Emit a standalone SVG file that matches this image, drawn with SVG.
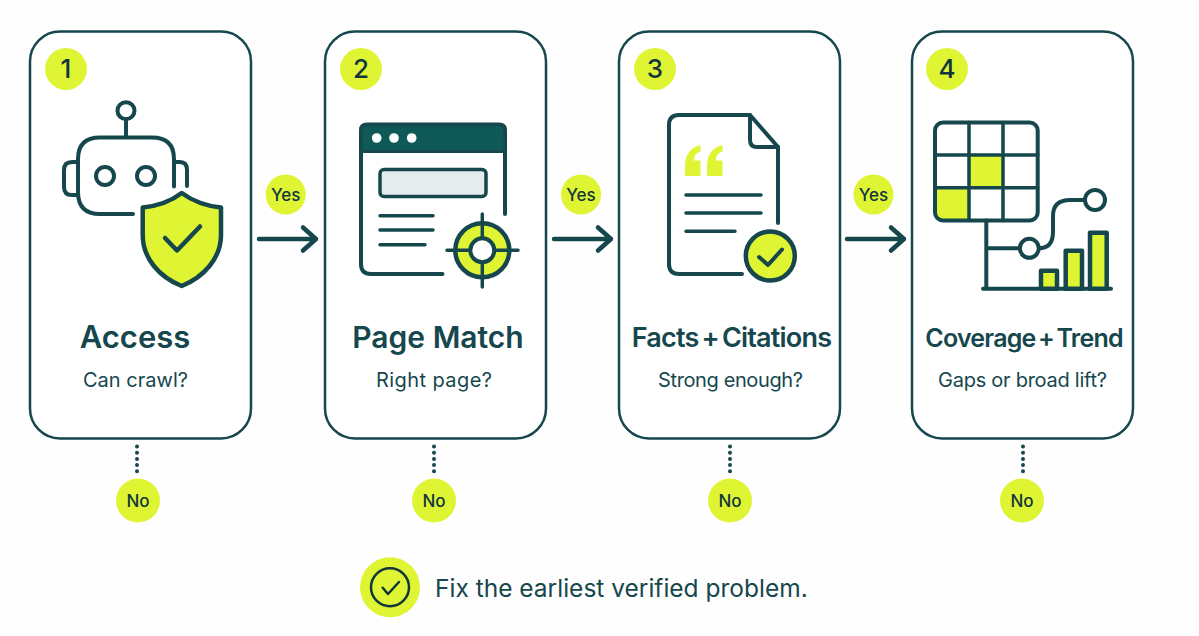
<svg xmlns="http://www.w3.org/2000/svg" width="1199" height="636" viewBox="0 0 1199 636">
<style>
.card{fill:#fff;stroke:#15474d;stroke-width:2.5}
.s{fill:none;stroke:#15474d;stroke-width:4;stroke-linecap:round;stroke-linejoin:round}
.t{stroke-width:3.5}
.a{stroke-width:4.5}
.l{fill:#dff534}
.lf{fill:#dff534;stroke:#15474d;stroke-width:4.5;stroke-linejoin:round}
.wf{fill:#fff;stroke:#15474d;stroke-width:4}
.num{font:500 26px Inter,"Liberation Sans",sans-serif;fill:#12363a;text-anchor:middle}
.title{font:600 30px Inter,"Liberation Sans",sans-serif;fill:#15474d;text-anchor:middle}
.narrow{font-size:27px;word-spacing:-3px;letter-spacing:-0.8px}
.sub{font:400 20px Inter,"Liberation Sans",sans-serif;fill:#15474d;text-anchor:middle}
.tag{font:500 17px Inter,"Liberation Sans",sans-serif;fill:#12363a;text-anchor:middle}
.foot{font:400 24.500px Inter,"Liberation Sans",sans-serif;fill:#15474d}
</style>
<rect width="1199" height="636" fill="#fdfefd"/>
<g id="connectors">
<path class="s a" d="M259 239H316M303 227.500L316 239L303 250.500"/>
<path class="s a" d="M554 239H611M598 227.500L611 239L598 250.500"/>
<path class="s a" d="M847 239H904M891 227.500L904 239L891 250.500"/>
<path fill="none" stroke="#15474d" stroke-width="4" stroke-linecap="round" stroke-dasharray="0 6.200" d="M137 446.500V472M434 446.500V472M730 446.500V472M1023 446.500V472"/>
</g>
<g id="node-1">
<rect class="card" x="30" y="31.500" width="221" height="407" rx="30"/>
<circle class="l" cx="66" cy="69" r="21"/>
<text class="num" x="66" y="78">1</text>
<circle class="s" cx="126" cy="110.700" r="8.500"/>
<path class="s" d="M126 119V137"/>
<path class="s" d="M133 214H100Q78 214 78 192V159Q78 137.500 100 137.500H152Q174 137.500 174 159V186.500"/>
<path class="s" d="M78 162H72Q64 162 64 170V187Q64 195 72 195H78"/>
<path class="s" d="M174 162H180Q187 162 187 170V186"/>
<circle class="s" cx="105" cy="176" r="9"/>
<circle class="s" cx="146" cy="176" r="9"/>
<path class="lf" d="M181.700 193C194 202 206 206 221 207.500V235C221 258 204 277 181.700 286C159 277 142.700 258 142.700 235V207.500C157 206 170 202 181.700 193Z"/>
<path class="s a" d="M165 238L177 250.500L200 226.500"/>
<text class="title" x="135" y="348" style="font-size:31px">Access</text>
<text class="sub" x="135.500" y="387" textLength="105">Can crawl?</text>
</g>
<g id="node-2">
<rect class="card" x="325" y="31.500" width="221" height="407" rx="30"/>
<circle class="l" cx="361" cy="69" r="21"/>
<text class="num" x="361" y="78">2</text>
<path class="s" d="M505 214V130Q505 124.500 499 124.500H367Q361 124.500 361 130V264Q361 274 371 274H442.500"/>
<path fill="#0f5a58" stroke="#15474d" stroke-width="3" d="M361 151.500V132Q361 124.500 368 124.500H498Q505 124.500 505 132V151.500Z"/>
<circle cx="376.700" cy="138" r="4.800" fill="#fff"/>
<circle cx="394" cy="138" r="4.800" fill="#fff"/>
<circle cx="411.700" cy="138" r="4.800" fill="#fff"/>
<rect x="380" y="169.500" width="106" height="27" rx="4" fill="#e6ebeb" stroke="#15474d" stroke-width="3.500"/>
<path class="s t" d="M380 215.700H433M380 230H433M380 244.700H425"/>
<circle cx="482.300" cy="250.300" r="27" fill="#dff534" stroke="#15474d" stroke-width="4.500"/>
<circle class="wf" cx="482.300" cy="250.300" r="12"/>
<path class="s t" d="M482.300 214V237M482.300 263.500V287M447 250.300H469.500M495 250.300H518"/>
<text class="title" x="438" y="348">Page Match</text>
<text class="sub" x="434" y="387" textLength="116">Right page?</text>
</g>
<g id="node-3">
<rect class="card" x="619" y="31.500" width="221" height="407" rx="30"/>
<circle class="l" cx="655" cy="69" r="21"/>
<text class="num" x="655" y="78">3</text>
<path class="s" d="M778 223V147L750 115H679Q669 115 669 125V264Q669 274 679 274H742"/>
<path class="s" d="M750 115V140Q750 147 757 147H778"/>
<path class="l" d="M700.500 145Q685 149 685 166V176H700.500V160.500H694Q694 153 700.500 151.500ZM722.500 145Q707 149 707 166V176H722.500V160.500H716Q716 153 722.500 151.500Z"/>
<path class="s t" d="M686 195H761M686 213H761M686 231.300H735"/>
<circle class="lf" cx="770.300" cy="256" r="24.500"/>
<path class="s" d="M759 257L768 265L782 249.500"/>
<text class="title narrow" x="731.500" y="347">Facts + Citations</text>
<text class="sub" x="730.500" y="387" textLength="145">Strong enough?</text>
</g>
<g id="node-4">
<rect class="card" x="912" y="31.500" width="221" height="407" rx="30"/>
<circle class="l" cx="947" cy="69" r="21"/>
<text class="num" x="947" y="78">4</text>
<rect class="l" x="969" y="155" width="34" height="33"/>
<path class="l" d="M935 188H969V221H943Q935 221 935 213Z"/>
<rect x="935" y="122.500" width="102.700" height="98" rx="8" fill="none" stroke="#15474d" stroke-width="4"/>
<path class="s t" d="M969 122.500V220.500M1003 122.500V220.500M935 155H1037.700M935 187.700H1037.700"/>
<path class="s" d="M986.300 220.500V288.700M983 288.700H1111M986.300 248.300H1020"/>
<path class="s" d="M1039 248.300C1050 248 1053 241 1053 232V216Q1053 200 1070 200H1085"/>
<circle class="wf" cx="1029.300" cy="248.300" r="9.500"/>
<circle class="wf" cx="1095" cy="200" r="10"/>
<path class="lf" d="M1041 288.700V270.700H1057V288.700Z"/>
<path class="lf" d="M1065.700 288.700V250.700H1082V288.700Z"/>
<path class="lf" d="M1090 288.700V232.700H1106.700V288.700Z"/>
<text class="title narrow" x="1024" y="347" style="font-size:25px">Coverage + Trend</text>
<text class="sub" x="1022.500" y="387" textLength="169">Gaps or broad lift?</text>
</g>
<g id="yes-1"><circle class="l" cx="285.700" cy="194.500" r="20"/><text class="tag" x="285.700" y="200.500">Yes</text></g>
<g id="yes-2"><circle class="l" cx="581" cy="194.500" r="20"/><text class="tag" x="581" y="200.500">Yes</text></g>
<g id="yes-3"><circle class="l" cx="873.500" cy="194.500" r="20"/><text class="tag" x="873.500" y="200.500">Yes</text></g>
<g id="no-1"><circle class="l" cx="138" cy="500.500" r="22"/><text class="tag" x="138" y="507">No</text></g>
<g id="no-2"><circle class="l" cx="434" cy="500.500" r="22"/><text class="tag" x="434" y="507">No</text></g>
<g id="no-3"><circle class="l" cx="730" cy="500.500" r="22"/><text class="tag" x="730" y="507">No</text></g>
<g id="no-4"><circle class="l" cx="1022" cy="500.500" r="22"/><text class="tag" x="1022" y="507">No</text></g>
<g id="footer">
<circle class="l" cx="390" cy="587.300" r="30"/>
<circle cx="390" cy="587.300" r="19" fill="none" stroke="#12363a" stroke-width="2.500"/>
<path fill="none" stroke="#12363a" stroke-width="2.500" stroke-linecap="round" stroke-linejoin="round" d="M382.700 587.700L388 594L399 582"/>
<text class="foot" x="435" y="597">Fix the earliest verified problem.</text>
</g>
</svg>
